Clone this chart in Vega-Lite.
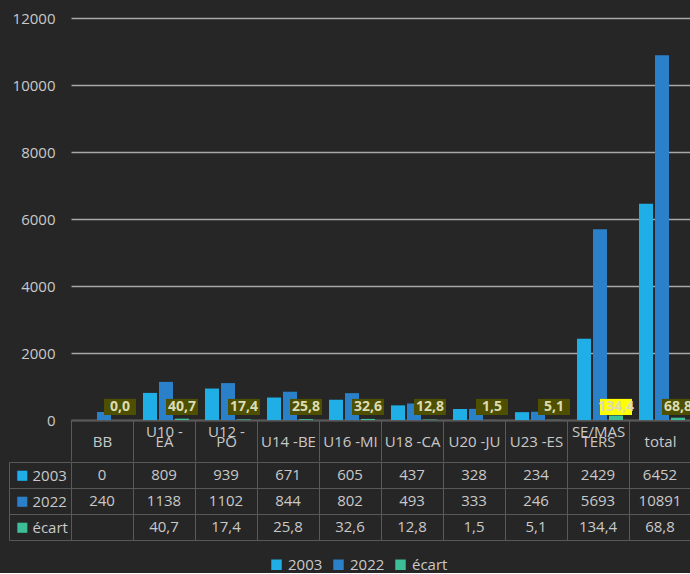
{
  "$schema": "https://vega.github.io/schema/vega-lite/v6.json",
  "background": "#262626",
  "padding": {"left": 8, "top": 11, "right": 0, "bottom": 0},
  "config": {
    "font": "Open Sans",
    "locale": {"number": {"decimal": ",", "thousands": "", "grouping": [3], "currency": ["", " €"]}},
    "view": {"stroke": null},
    "axis": {"labelColor": "#c9c9c9", "labelFontSize": 15},
    "legend": {
      "direction": "horizontal", "title": null,
      "labelColor": "#c9c9c9", "labelFontSize": 15,
      "symbolType": "square", "symbolSize": 110, "symbolStrokeWidth": 0,
      "columnPadding": 8
    }
  },
  "data": {"values": [
    {"cat": "BB", "series": "2003", "value": 0},
    {"cat": "BB", "series": "2022", "value": 240},
    {"cat": "BB", "series": "écart", "value": null},
    {"cat": "U10 - EA", "series": "2003", "value": 809},
    {"cat": "U10 - EA", "series": "2022", "value": 1138},
    {"cat": "U10 - EA", "series": "écart", "value": 40.7},
    {"cat": "U12 - PO", "series": "2003", "value": 939},
    {"cat": "U12 - PO", "series": "2022", "value": 1102},
    {"cat": "U12 - PO", "series": "écart", "value": 17.4},
    {"cat": "U14 -BE", "series": "2003", "value": 671},
    {"cat": "U14 -BE", "series": "2022", "value": 844},
    {"cat": "U14 -BE", "series": "écart", "value": 25.8},
    {"cat": "U16 -MI", "series": "2003", "value": 605},
    {"cat": "U16 -MI", "series": "2022", "value": 802},
    {"cat": "U16 -MI", "series": "écart", "value": 32.6},
    {"cat": "U18 -CA", "series": "2003", "value": 437},
    {"cat": "U18 -CA", "series": "2022", "value": 493},
    {"cat": "U18 -CA", "series": "écart", "value": 12.8},
    {"cat": "U20 -JU", "series": "2003", "value": 328},
    {"cat": "U20 -JU", "series": "2022", "value": 333},
    {"cat": "U20 -JU", "series": "écart", "value": 1.5},
    {"cat": "U23 -ES", "series": "2003", "value": 234},
    {"cat": "U23 -ES", "series": "2022", "value": 246},
    {"cat": "U23 -ES", "series": "écart", "value": 5.1},
    {"cat": "SE/MASTERS", "series": "2003", "value": 2429},
    {"cat": "SE/MASTERS", "series": "2022", "value": 5693},
    {"cat": "SE/MASTERS", "series": "écart", "value": 134.4},
    {"cat": "total", "series": "2003", "value": 6452},
    {"cat": "total", "series": "2022", "value": 10891},
    {"cat": "total", "series": "écart", "value": 68.8}
  ]},
  "spacing": -8,
  "resolve": {"scale": {"x": "independent", "y": "independent"}},
  "vconcat": [
    {
      "width": 620,
      "height": 402,
      "encoding": {
        "x": {
          "field": "cat", "type": "nominal", "sort": null,
          "scale": {"domain": ["BB", "U10 - EA", "U12 - PO", "U14 -BE", "U16 -MI", "U18 -CA", "U20 -JU", "U23 -ES", "SE/MASTERS", "total"], "paddingInner": 0, "paddingOuter": 0},
          "axis": {
            "title": null, "grid": false, "tickBand": "extent", "ticks": true, "tickSize": 41,
            "tickColor": "#595959", "tickWidth": 1, "domainColor": "#595959", "domainWidth": 1,
            "labelAngle": 0, "labelBaseline": "middle", "labelLineHeight": 10, "labelPadding": -30,
            "labelOverlap": false, "labelBound": false, "labelLimit": 0, "minExtent": 41,
            "labelExpr": "datum.label == 'SE/MASTERS' ? ['SE/MAS', '\u00a0', 'TERS'] : (indexof(datum.label, ' - ') > 0 ? [slice(datum.label, 0, 5), '\u00a0', slice(datum.label, 6)] : ['\u00a0', datum.label])"
          }
        },
        "xOffset": {
          "field": "series", "type": "nominal",
          "scale": {"domain": ["2003", "2022", "écart"], "paddingInner": 0.125, "paddingOuter": 0.5, "align": 0.625}
        }
      },
      "layer": [
        {
          "mark": {"type": "bar"},
          "encoding": {
            "y": {
              "field": "value", "type": "quantitative",
              "scale": {"domain": [0, 12000]},
              "axis": {
                "title": null, "values": [0, 2000, 4000, 6000, 8000, 10000, 12000], "format": "d",
                "grid": true, "gridColor": "#a8a8a8", "gridWidth": 1.5,
                "ticks": false, "domain": false, "labelPadding": 16, "minExtent": 62
              }
            },
            "color": {
              "field": "series", "type": "nominal",
              "scale": {"domain": ["2003", "2022", "écart"], "range": ["#1fafe6", "#2a80c9", "#3cbe96"]},
              "legend": {"orient": "none", "legendX": 198, "legendY": 539}
            }
          }
        },
        {
          "transform": [{"filter": "datum.series == 'écart'"}],
          "mark": {"type": "bar", "width": 32},
          "encoding": {
            "y": {"datum": 150, "type": "quantitative"},
            "y2": {"datum": 630},
            "color": {"condition": {"test": "datum.cat == 'SE/MASTERS'", "value": "#ffff00"}, "value": "#4f4f00"}
          }
        },
        {
          "transform": [{"filter": "datum.series == 'écart'"}],
          "mark": {"type": "text", "fontSize": 14, "fontWeight": "bold", "baseline": "middle", "color": "#dcdcb4"},
          "encoding": {
            "y": {"datum": 390, "type": "quantitative"},
            "text": {"condition": {"test": "datum.value == null", "value": "0,0"}, "field": "value", "type": "quantitative", "format": ".1f"}
          }
        }
      ]
    },
    {
      "width": 620,
      "height": 78,
      "encoding": {
        "x": {
          "field": "cat", "type": "nominal", "sort": null,
          "scale": {"domain": ["BB", "U10 - EA", "U12 - PO", "U14 -BE", "U16 -MI", "U18 -CA", "U20 -JU", "U23 -ES", "SE/MASTERS", "total"], "paddingInner": 0, "paddingOuter": 0},
          "axis": {"title": null, "labels": false, "ticks": false, "domain": false, "grid": true, "tickBand": "extent", "gridColor": "#595959", "gridWidth": 1}
        }
      },
      "layer": [
        {
          "transform": [{"filter": "datum.series != 'écart'"}],
          "mark": {"type": "text", "fontSize": 15, "color": "#c9c9c9"},
          "encoding": {
            "y": {
              "field": "series", "type": "nominal", "sort": null,
              "scale": {"domain": ["2003", "2022", "écart"], "paddingInner": 0, "paddingOuter": 0},
              "axis": {
                "orient": "left", "title": null, "grid": true, "gridColor": "#595959", "gridWidth": 1,
                "tickBand": "extent", "ticks": true, "tickSize": 62, "tickColor": "#595959", "tickWidth": 1,
                "domain": false, "labelAlign": "left", "labelBaseline": "middle", "labelPadding": -23,
                "labelFontSize": 15, "labelColor": "#c9c9c9"
              }
            },
            "text": {"field": "value", "type": "quantitative", "format": "d"}
          }
        },
        {
          "transform": [{"filter": "datum.series == 'écart' && datum.value != null"}],
          "mark": {"type": "text", "fontSize": 15, "color": "#c9c9c9"},
          "encoding": {
            "y": {
              "field": "series", "type": "nominal", "sort": null,
              "axis": {
                "orient": "left", "offset": 62, "title": null, "grid": false,
                "ticks": false, "tickSize": 0, "domain": true, "domainColor": "#595959", "domainWidth": 1,
                "labelExpr": "'■'", "labelAlign": "center", "labelBaseline": "middle", "labelPadding": -13,
                "labelFont": "DejaVu Sans", "labelFontSize": 13,
                "labelColor": {"condition": [{"test": "datum.value == '2003'", "value": "#1fafe6"}, {"test": "datum.value == '2022'", "value": "#2a80c9"}], "value": "#3cbe96"}
              }
            },
            "text": {"field": "value", "type": "quantitative", "format": ".1f"}
          }
        }
      ],
      "resolve": {"axis": {"y": "independent"}}
    }
  ]
}
